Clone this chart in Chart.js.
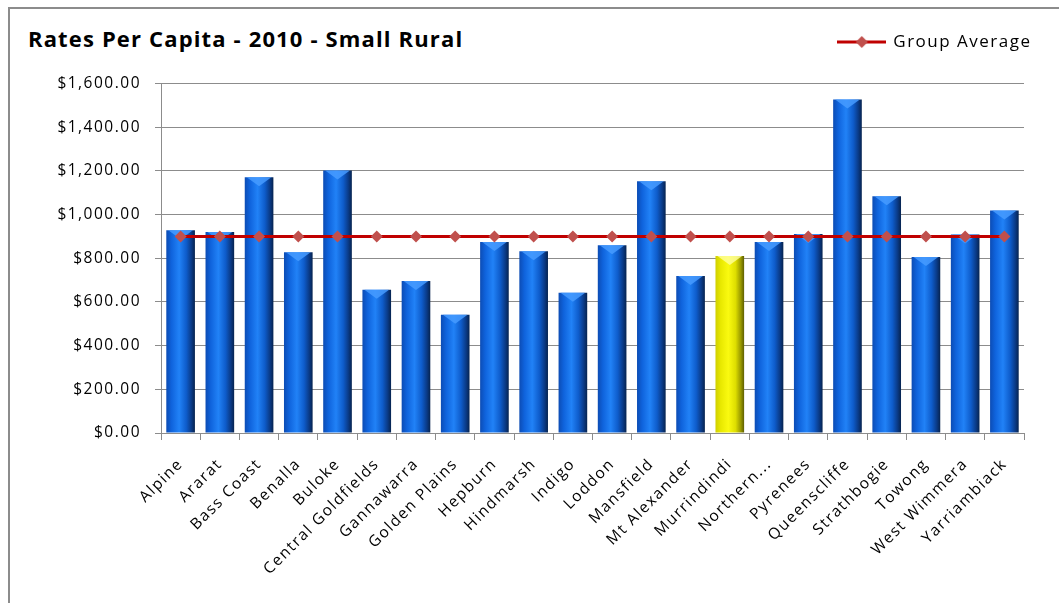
<!DOCTYPE html>
<html>
<head>
<meta charset="utf-8">
<title>Rates Per Capita - 2010 - Small Rural</title>
<script src="https://cdn.jsdelivr.net/npm/chart.js@4.4.0/dist/chart.umd.min.js"></script>
<style>
  html, body { margin: 0; padding: 0; background: #fff; overflow: hidden; width: 1059px; height: 603px; }
  #frame { position: absolute; left: 8px; top: 7px; width: 1200px; height: 700px;
           border-left: 2px solid #8c8c8c; border-top: 2px solid #8c8c8c; }
  #title { position: absolute; left: 28px; top: 27px; font: bold 22px "Open Sans", sans-serif;
           letter-spacing: 1.15px; line-height: 22px; color: #000; white-space: nowrap; }
  #wrap { position: absolute; left: 0; top: 0; width: 1064px; height: 603px; }
</style>
</head>
<body>
<div id="frame"></div>
<div id="title">Rates Per Capita - 2010 - Small Rural</div>
<div id="wrap"><canvas id="chart" width="1064" height="603"></canvas></div>
<script>
const councils = ['Alpine', 'Ararat', 'Bass Coast', 'Benalla', 'Buloke', 'Central Goldfields',
  'Gannawarra', 'Golden Plains', 'Hepburn', 'Hindmarsh', 'Indigo', 'Loddon', 'Mansfield',
  'Mt Alexander', 'Murrindindi', 'Northern...', 'Pyrenees', 'Queenscliffe', 'Strathbogie',
  'Towong', 'West Wimmera', 'Yarriambiack'];
const ratesPerCapita = [928, 920, 1171, 828, 1202, 656, 696, 541, 874, 832, 642, 860, 1152,
  719, 810, 874, 911, 1527, 1084, 806, 909, 1019];
const groupAverage = [900, 900, 900, 900, 900, 900, 900, 900, 900, 900, 900, 900, 900,
  900, 900, 900, 900, 900, 900, 900, 900, 900];
const highlighted = 'Murrindindi';
const yMin = 0, yMax = 1600, yStep = 200;

const BAR_PCT = 0.73;
const GRID = '#8c8c8c';
const FONT = '"Open Sans", sans-serif';

const blueStops = [[0, '#0c4cb4'], [0.18, '#0f63dc'], [0.45, '#2182f7'], [0.7, '#0e5ccb'], [0.88, '#0a3a86'], [1, '#06234f']];
const yellowStops = [[0, '#cfcf00'], [0.18, '#e8e800'], [0.45, '#fafa10'], [0.7, '#dede00'], [0.88, '#9a9a00'], [1, '#5e5e00']];

// cylinder-ish shading across each bar
function barFill(ctx) {
  const chart = ctx.chart;
  const xs = chart.scales.x;
  const stops = councils[ctx.dataIndex] === highlighted ? yellowStops : blueStops;
  if (!xs || ctx.type !== 'data') return stops[2][1];
  const cx = xs.getPixelForValue(ctx.dataIndex);
  const half = (xs.width / councils.length) * BAR_PCT / 2;
  if (!isFinite(cx) || !isFinite(half) || half <= 0) return stops[2][1];
  const g = chart.ctx.createLinearGradient(cx - half, 0, cx + half, 0);
  stops.forEach(([o, c]) => g.addColorStop(o, c));
  return g;
}

// light bevel on top of each bar
const barCaps = {
  id: 'barCaps',
  afterDatasetDraw(chart, args) {
    if (args.index !== 0) return;
    const c = chart.ctx;
    c.save();
    args.meta.data.forEach((bar, i) => {
      const { x, y, width } = bar.getProps(['x', 'y', 'width'], true);
      const h = Math.min(9, width * 0.32);
      c.fillStyle = councils[i] === highlighted ? 'rgba(255,255,160,0.8)' : 'rgba(70,155,255,0.85)';
      c.beginPath();
      c.moveTo(x - width / 2 + 2, y);
      c.lineTo(x + width / 2 - 2, y);
      c.lineTo(x, y + h);
      c.closePath();
      c.fill();
    });
    c.restore();
  }
};

const spacing = {
  id: 'spacing',
  beforeLayout(chart) { chart.ctx.letterSpacing = '1.5px'; },
  beforeDraw(chart) { chart.ctx.letterSpacing = '1.5px'; }
};

// legend marker: line with a diamond
const legendIcon = document.createElement('canvas');
legendIcon.width = 49;
legendIcon.height = 14;
(function () {
  const g = legendIcon.getContext('2d');
  g.strokeStyle = '#c00000';
  g.lineWidth = 3;
  g.beginPath(); g.moveTo(0, 7); g.lineTo(49, 7); g.stroke();
  g.fillStyle = '#c0504d';
  g.beginPath(); g.moveTo(24.5, 1); g.lineTo(30.5, 7); g.lineTo(24.5, 13); g.lineTo(18.5, 7); g.closePath(); g.fill();
})();

// empty axes used only as spacers around the plot
const spacer = size => ({
  type: 'linear', display: true,
  grid: { display: false }, border: { display: false }, ticks: { display: false },
  afterFit: s => { if (s.isHorizontal()) s.height = size; else s.width = size; }
});

new Chart(document.getElementById('chart'), {
  data: {
    labels: councils,
    datasets: [
      {
        type: 'bar',
        label: 'Rates Per Capita',
        data: ratesPerCapita,
        backgroundColor: barFill,
        borderWidth: 0,
        barPercentage: BAR_PCT,
        categoryPercentage: 1,
        order: 1
      },
      {
        type: 'line',
        label: 'Group Average',
        data: groupAverage,
        borderColor: '#c00000',
        borderWidth: 3,
        pointStyle: 'rectRot',
        pointRadius: 6,
        pointBackgroundColor: '#c0504d',
        pointBorderColor: '#c0504d',
        pointBorderWidth: 0,
        tension: 0,
        order: 0
      }
    ]
  },
  options: {
    responsive: false,
    animation: false,
    layout: { padding: { top: 1, left: 0, right: 0, bottom: 0 } },
    plugins: {
      title: { display: false },
      tooltip: { enabled: false },
      legend: {
        position: 'top',
        align: 'end',
        labels: {
          filter: item => item.text === 'Group Average',
          usePointStyle: true,
          pointStyle: legendIcon,
          pointStyleWidth: 46,
          padding: 32.5,
          color: '#000',
          font: { family: FONT, size: 17 }
        }
      }
    },
    scales: {
      x: {
        grid: { display: true, drawOnChartArea: false, offset: true, color: GRID, tickLength: 7 },
        border: { color: GRID, width: 1 },
        ticks: {
          autoSkip: false, maxRotation: 45, minRotation: 45, padding: 15,
          color: '#000', font: { family: FONT, size: 15.5 }
        },
        afterFit: s => { s.height = 170; }
      },
      y: {
        min: yMin, max: yMax,
        grid: { color: GRID, tickLength: 6 },
        border: { color: GRID, width: 1 },
        ticks: {
          stepSize: yStep, padding: 14, color: '#000', font: { family: FONT, size: 15.5 },
          callback: v => '$' + v.toLocaleString('en-US', { minimumFractionDigits: 2, maximumFractionDigits: 2 })
        },
        afterFit: s => { s.width = 161; }
      },
      xTop: Object.assign(spacer(23), { position: 'top' }),
      yRight: Object.assign(spacer(40), { position: 'right' })
    }
  },
  plugins: [spacing, barCaps]
});
</script>
</body>
</html>
